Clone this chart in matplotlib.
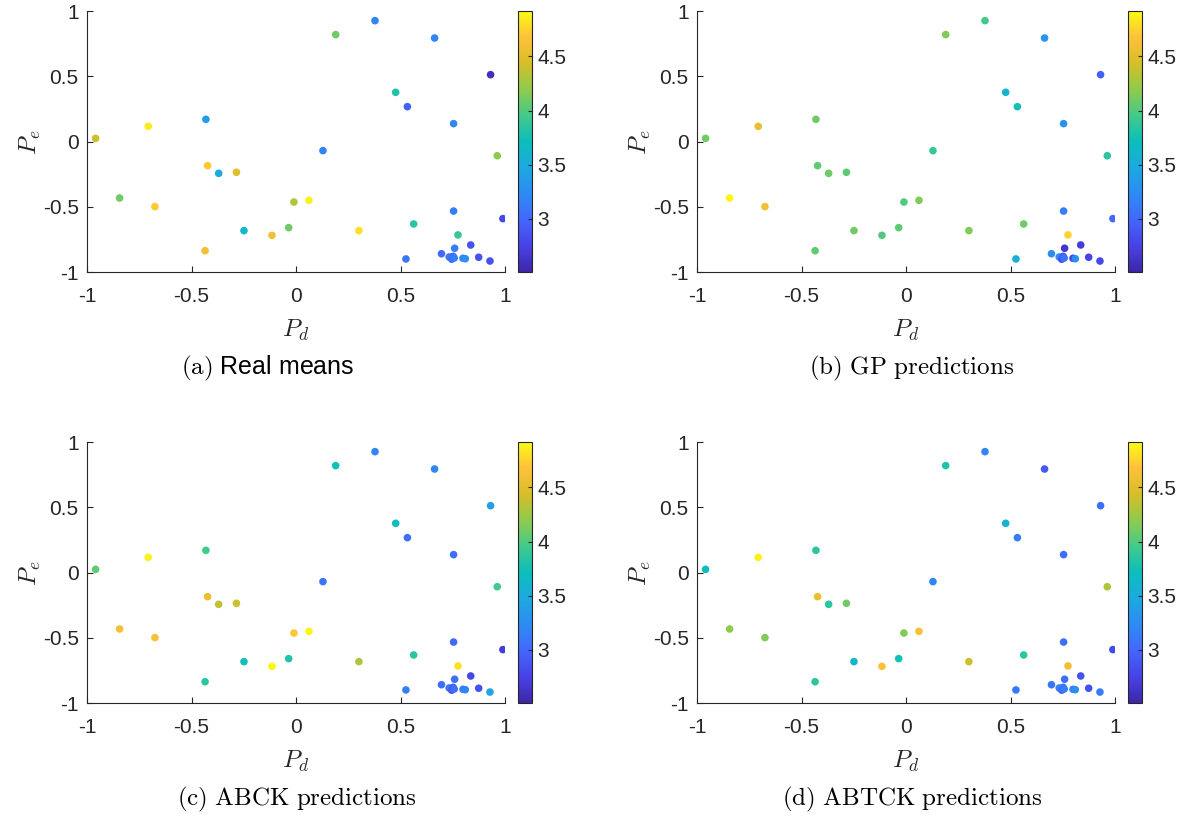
import numpy as np
import matplotlib
matplotlib.use('Agg')
import matplotlib.pyplot as plt
from matplotlib.colors import LinearSegmentedColormap

plt.rcParams['font.family'] = ['Liberation Sans', 'DejaVu Sans']
plt.rcParams['mathtext.fontset'] = 'cm'
plt.rcParams['axes.unicode_minus'] = False

# point positions (same in all four panels)
pd_vals = [0.378, 0.190, 0.663, 0.931, 0.477, 0.533, -0.431, -0.707, 0.754, -0.959,
           0.129, 0.963, -0.423, -0.370, -0.285, -0.844, -0.675, -0.010, 0.062, 0.754,
           0.990, 0.563, -0.249, -0.035, 0.301, -0.115, 0.775, -0.435, 0.836, 0.759,
           0.696, 0.526, 0.733, 0.752, 0.745, 0.757, 0.799, 0.810, 0.874, 0.928]
pe_vals = [0.926, 0.819, 0.793, 0.512, 0.377, 0.267, 0.170, 0.116, 0.137, 0.024,
           -0.070, -0.109, -0.185, -0.244, -0.236, -0.433, -0.499, -0.464, -0.451, -0.533,
           -0.591, -0.632, -0.683, -0.660, -0.683, -0.719, -0.716, -0.837, -0.793, -0.818,
           -0.860, -0.900, -0.885, -0.880, -0.902, -0.893, -0.895, -0.898, -0.887, -0.916]

real_means = [3.2, 4.1, 3.2, 2.6, 3.8, 2.95, 3.35, 4.85, 3.2, 4.4,
              3.2, 4.2, 4.7, 3.5, 4.5, 4.1, 4.7, 4.3, 4.88, 3.15,
              2.8, 3.85, 3.65, 4.1, 4.8, 4.6, 3.9, 4.62, 2.85, 3.15,
              3.0, 3.1, 3.1, 3.0, 3.05, 3.15, 3.2, 3.25, 2.85, 2.85]
gp_pred = [3.95, 4.15, 3.3, 2.95, 3.6, 3.75, 4.1, 4.55, 3.3, 4.1,
           3.9, 3.85, 4.05, 4.1, 4.05, 4.9, 4.6, 4.0, 4.15, 3.15,
           3.0, 4.1, 4.1, 4.05, 4.15, 4.0, 4.75, 4.05, 2.7, 2.65,
           3.25, 3.55, 3.25, 2.9, 2.85, 3.1, 2.75, 3.25, 2.75, 2.8]
abck_pred = [3.2, 3.75, 3.2, 3.4, 3.7, 3.05, 3.95, 4.88, 3.05, 4.05,
             3.1, 3.95, 4.55, 4.35, 4.4, 4.6, 4.65, 4.7, 4.9, 3.0,
             2.7, 3.85, 3.75, 3.8, 4.3, 4.9, 4.8, 3.85, 2.8, 3.05,
             3.05, 3.15, 3.1, 2.95, 2.9, 3.05, 3.15, 3.2, 2.85, 3.45]
abtck_pred = [3.2, 3.8, 2.9, 3.05, 3.6, 3.15, 3.85, 4.88, 3.05, 3.7,
              3.2, 4.3, 4.55, 3.85, 4.1, 4.2, 4.15, 4.15, 4.65, 3.05,
              2.8, 3.85, 3.6, 3.75, 4.4, 4.65, 4.6, 3.85, 2.85, 3.05,
              3.1, 3.1, 3.2, 3.05, 3.0, 3.15, 3.2, 3.25, 2.85, 3.15]

captions = [r'$\mathrm{(a)}$ Real means', r'$\mathrm{(b)\ GP\ predictions}$',
            r'$\mathrm{(c)\ ABCK\ predictions}$', r'$\mathrm{(d)\ ABTCK\ predictions}$']

axis_ticks = [-1, -0.5, 0, 0.5, 1]
axis_labels = ['-1', '-0.5', '0', '0.5', '1']
cbar_ticks = [3, 3.5, 4, 4.5]
cbar_labels = ['3', '3.5', '4', '4.5']
vmin, vmax = 2.51, 4.92

# parula-like colormap
parula = LinearSegmentedColormap.from_list('parula', [
    (0.2422, 0.1504, 0.6603), (0.2788, 0.2598, 0.9035), (0.2647, 0.4030, 0.9935),
    (0.1768, 0.5452, 0.9560), (0.1119, 0.6627, 0.8770), (0.0504, 0.7423, 0.7359),
    (0.2589, 0.7937, 0.5454), (0.5609, 0.7943, 0.3050), (0.8389, 0.7457, 0.1546),
    (0.9972, 0.7569, 0.2267), (0.9769, 0.9839, 0.0805)])

W, H = 1188, 822
fig = plt.figure(figsize=(W / 100, H / 100), dpi=100)
dark = '#262626'


def px_axes(left, top, width, height):
    return fig.add_axes([left / W, 1 - (top + height) / H, width / W, height / H])


layout = [(87, 11, 268), (697, 11, 912), (87, 442, 297), (697, 442, 912)]
series = [real_means, gp_pred, abck_pred, abtck_pred]

for vals, cap, (x0, y0, capx) in zip(series, captions, layout):
    ax = px_axes(x0, y0, 418, 261)
    sc = ax.scatter(pd_vals, pe_vals, c=vals, cmap=parula, vmin=vmin, vmax=vmax,
                    s=30, edgecolors='none')
    ax.set_xlim(-1, 1)
    ax.set_ylim(-1, 1)
    ax.set_xticks(axis_ticks)
    ax.set_xticklabels(axis_labels)
    ax.set_yticks(axis_ticks)
    ax.set_yticklabels(axis_labels)
    for s in ['top', 'right']:
        ax.spines[s].set_visible(False)
    for s in ['left', 'bottom']:
        ax.spines[s].set_color(dark)
        ax.spines[s].set_linewidth(0.8)
    ax.tick_params(direction='in', length=4, width=0.8, color=dark,
                   labelcolor=dark, labelsize=15)
    ax.tick_params(axis='x', pad=11)
    ax.tick_params(axis='y', pad=6)

    cax = px_axes(x0 + 431, y0, 14, 261)
    cb = fig.colorbar(sc, cax=cax, ticks=cbar_ticks)
    cb.ax.set_yticklabels(cbar_labels)
    cb.ax.tick_params(direction='in', length=3, width=0.8, color=dark,
                      labelcolor=dark, labelsize=15, pad=4)
    cb.outline.set_edgecolor(dark)
    cb.outline.set_linewidth(0.8)

    fig.text((x0 + 209) / W, 1 - (y0 + 319) / H, r'$P_d$', ha='center', va='center',
             fontsize=18, color=dark)
    fig.text((x0 - 57) / W, 1 - (y0 + 131) / H, r'$P_e$', ha='center', va='center',
             fontsize=18, color=dark, rotation=90)
    fig.text(capx / W, 1 - (y0 + 357) / H, cap, ha='center', va='center',
             fontsize=18, color='black')

fig.savefig('out.png', dpi=100)
